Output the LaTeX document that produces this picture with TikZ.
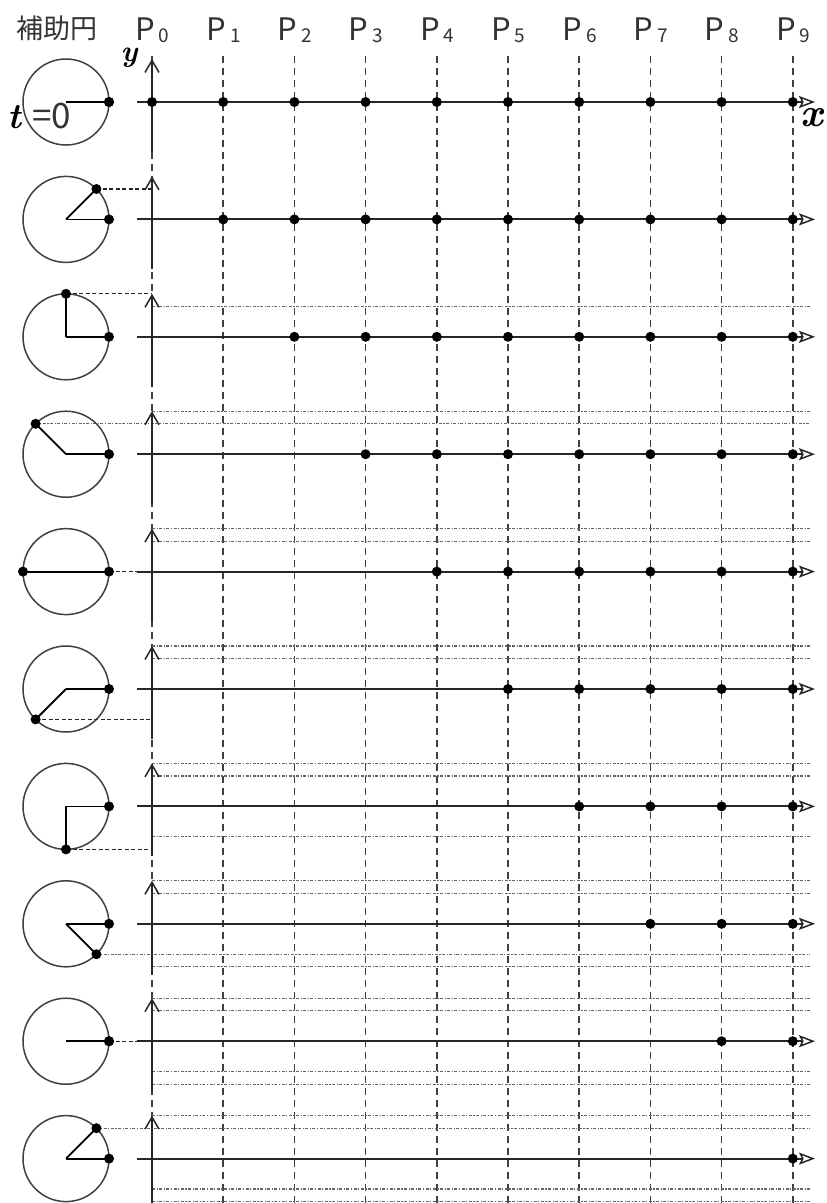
\documentclass[tikz,border=0pt]{standalone}
\usepackage{fontspec}
\newfontfamily\jp{Noto Sans CJK JP}
\usetikzlibrary{arrows.meta}
\begin{document}
\begin{tikzpicture}[x=1pt,y=-1pt,
 vline/.style={black!75, line width=1.7pt, dash pattern=on 7pt off 5pt},
 hline/.style={black!60, line width=1.3pt, dash pattern=on 3pt off 1.5pt on 1.2pt off 1.5pt},
 cline/.style={black!85, line width=1.3pt, dash pattern=on 4pt off 2.5pt},
 axisline/.style={black!85, line width=2pt},
 circ/.style={black!75, line width=1.5pt},
 rad/.style={black, line width=1.8pt},
 dot/.style={circle, fill=black, inner sep=0pt, minimum size=10pt},
 lab/.style={font=\jp\fontsize{31}{31}\selectfont, text=black!80, inner sep=0pt},
 bilab/.style={inner sep=0pt, font=\bfseries\itshape},
]
\useasboundingbox (0,0) rectangle (827,1203);
\fill[white] (0,0) rectangle (827,1203);

% vertical dashed lines
\foreach \k in {0,...,9} {
  \draw[vline] ({152+71.2*\k},56) -- ({152+71.2*\k},1203);
}

% top labels
\node[lab, font=\jp\fontsize{27}{27}\selectfont] (hojo) at (57,28) {補助円};
\foreach \k in {0,...,9} {
  \node[lab, anchor=base west] (P\k) at ({152+71.2*\k-17},40)
    {P\hspace{4pt}\raisebox{-2pt}{\fontsize{19}{19}\selectfont\k}};
}

% horizontal lines: circle -> axis
\foreach \r/\m/\sx in {1/0.7071/96.4, 2/1/66, 4/0/109, 5/-0.7071/35.6, 6/-1/66, 8/0/109} {
  \pgfmathsetmacro\yy{102+117.4*\r-43*\m}
  \coordinate (cs\r) at (\sx,\yy);
  \coordinate (ce\r) at (152,\yy);
  \draw[cline] (cs\r) -- (ce\r);
}
% circle -> right end
\foreach \r/\m/\sx in {3/0.7071/35.6, 7/-0.7071/96.4, 9/0.7071/96.4} {
  \pgfmathsetmacro\yy{102+117.4*\r-43*\m}
  \coordinate (fs\r) at (\sx,\yy);
  \coordinate (fe\r) at (810,\yy);
  \draw[hline] (fs\r) -- (fe\r);
}
% axis -> right end (earlier heights)
\foreach \r/\m in {2/0.7071, 3/1, 4/1, 4/0.7071, 5/1, 5/0.7071, 6/1, 6/0.7071, 6/-0.7071,
  7/1, 7/0.7071, 7/-1, 8/1, 8/0.7071, 8/-0.7071, 8/-1, 9/1, 9/-0.7071, 9/-1} {
  \pgfmathsetmacro\yy{102+117.4*\r-43*\m}
  \draw[hline] (152,\yy) -- (810,\yy);
}

% rows
\foreach \k in {0,...,9} {
  \pgfmathsetmacro\yy{102+117.4*\k}
  \pgfmathsetmacro\qx{66+43*cos(45*\k)}
  \pgfmathsetmacro\qy{\yy-43*sin(45*\k)}
  \pgfmathsetmacro\yb{\yy+50}
  \pgfmathsetmacro\yt{\yy-43}
  \coordinate (C\k) at (66,\yy);
  \coordinate (R\k) at (109,\yy);
  \coordinate (Q\k) at (\qx,\qy);
  \draw[circ] (C\k) circle[radius=43pt];
  \draw[rad] (C\k) -- (R\k);
  \draw[rad] (C\k) -- (Q\k);
  \node[dot] (rd\k) at (R\k) {};
  \node[dot] (qd\k) at (Q\k) {};
  \coordinate (xs\k) at (137,\yy);
  \coordinate (xe\k) at (815,\yy);
  \draw[axisline, -{Stealth[open, length=16pt, width=12pt, inset=3pt, line width=1.5pt]}] (xs\k) -- (xe\k);
  \coordinate (ys\k) at (152,\yb);
  \coordinate (ye\k) at (152,\yt);
  \draw[axisline, -{Straight Barb[length=12pt, width=14pt, line width=1.5pt]}] (ys\k) -- (ye\k);
  \foreach \j in {\k,...,9} {
    \node[dot] (d\k-\j) at ({152+71.2*\j},\yy) {};
  }
}

% axis labels
\node[bilab, font=\bfseries\itshape\fontsize{30}{30}\selectfont] (ylab) at (129,58) {y};
\node[bilab, font=\bfseries\itshape\fontsize{40}{40}\selectfont] (xlab) at (812,118) {x};
\node[bilab, anchor=base west, font=\bfseries\itshape\fontsize{36}{36}\selectfont] (tlab) at (7,128) {t};
\node[lab, anchor=base west, font=\jp\fontsize{35}{35}\selectfont] (eqlab) at (32,128) {=0};
\end{tikzpicture}
\end{document}
